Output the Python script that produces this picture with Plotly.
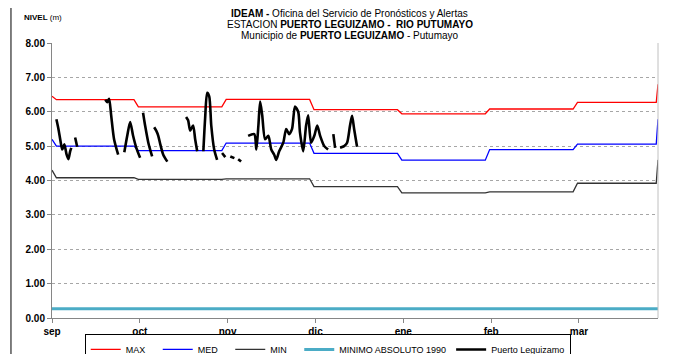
import plotly.graph_objects as go

# eje x en dias desde el 1 de septiembre (cada mes ocupa 30 dias en la grafica)
meses = ["sep", "oct", "nov", "dic", "ene", "feb", "mar"]
dias_mes = [0, 30, 60, 90, 120, 150, 180]
dia_final = 207

# niveles de referencia mensuales (ago = valor inicial, abr = valor final)
nivel_max = [6.45, 6.35, 6.14, 6.36, 6.06, 5.94, 6.08, 6.27, 6.80]
nivel_med = [5.20, 5.00, 4.87, 5.09, 4.79, 4.59, 4.90, 5.06, 5.78]
nivel_min = [4.30, 4.08, 4.03, 4.05, 3.82, 3.64, 3.67, 3.92, 4.60]
minimo_absoluto = 0.27

# observaciones Puerto Leguizamo (None = sin dato)
dias_obs = [
    1.5, 2.2, 3.0, 3.5, 4.2, 5.0, 5.6, 6.2, 6.6, None,
    7.9, 8.6, None,
    18.2, 18.9, 19.5, 20.2, 21.2, 22.6, None,
    24.7, 25.7, 26.7, 27.7, 28.8, 30.1, None,
    31.1, 31.8, 32.9, 34.2, None,
    34.9, 35.6, 36.3, 37.0, 38.0, 39.4, None,
    45.8, 46.5, 47.2, 48.2, 48.9, 49.6, None,
    51.7, 52.3, 53.0, 53.7, 54.4, 55.4, 56.4, None,
    58.1, 59.2, None, 60.9, 62.3, None, 63.6, 64.6, None,
    67.0, 69.1, 69.8, 70.5, 71.1, 71.8, 72.8, 73.9, 74.9, 75.9, 76.6, 77.6,
    79.0, 80.0, 81.0, 82.0, 83.0, 84.1, 84.7, 85.8, 86.8, 87.5, 88.5, 89.6,
    90.6, 91.6, 93.0, 94.3, None,
    96.1, 96.7, None,
    98.4, 99.8, 100.8, 101.8, 102.5, 103.2, 104.2,
]
nivel_obs = [
    5.78, 5.50, 5.10, 4.90, 5.05, 4.75, 4.62, 4.85, 4.95, None,
    5.25, 4.98, None,
    6.35, 6.28, 6.38, 5.90, 5.20, 4.75, None,
    4.82, 5.30, 5.70, 5.30, 4.95, 4.66, None,
    5.97, 5.60, 5.10, 4.70, None,
    5.55, 5.45, 5.30, 5.05, 4.75, 4.55, None,
    5.85, 5.75, 5.45, 5.60, 5.20, 4.85, None,
    4.85, 5.80, 6.55, 6.45, 5.60, 4.90, 4.60, None,
    4.80, 4.68, None, 4.70, 4.65, None, 4.62, 4.55, None,
    5.30, 5.35, 4.90, 5.60, 6.30, 5.90, 5.20, 5.30, 4.90, 4.75, 4.60, 4.85,
    5.10, 5.50, 5.35, 5.50, 6.15, 6.00, 5.40, 4.85, 5.60, 5.90, 5.10, 5.30,
    5.60, 5.30, 5.00, 4.90, None,
    5.35, 4.95, None,
    4.95, 5.00, 5.10, 5.60, 5.88, 5.50, 4.98,
]


def escalones(valores):
    # linea mensual con rampa corta en el cambio de mes
    xs = [0, 1.5]
    ys = [valores[0], valores[1]]
    for i in range(1, len(dias_mes)):
        b = dias_mes[i]
        xs += [b - 2, b - 0.5]
        ys += [valores[i], valores[i + 1]]
    xs += [dia_final - 0.6, dia_final]
    ys += [valores[-2], valores[-1]]
    return xs, ys


fuente = "Arial, Liberation Sans, sans-serif"
relleno = "\u00a0\u00a0\u00a0"  # separa un poco mas las entradas cortas de la leyenda

fig = go.Figure()

for nombre, valores, color in [
    ("MAX", nivel_max, "#ff0000"),
    ("MED", nivel_med, "#0000ff"),
    ("MIN", nivel_min, "#333333"),
]:
    xs, ys = escalones(valores)
    fig.add_trace(go.Scatter(x=xs, y=ys, mode="lines", name=nombre + relleno,
                             line=dict(color=color, width=1.3)))

fig.add_trace(go.Scatter(
    x=[0, dia_final], y=[minimo_absoluto, minimo_absoluto],
    mode="lines", name="MINIMO ABSOLUTO 1990",
    line=dict(color="#4bacc6", width=3)))

fig.add_trace(go.Scatter(
    x=dias_obs, y=nivel_obs, mode="lines", name="Puerto Leguizamo",
    line=dict(color="black", width=2.6, shape="spline", smoothing=0.7),
    connectgaps=False))

titulos = [
    ("<b>IDEAM - </b>Oficina del Servicio de Pronósticos y Alertas", 1.109),
    ("ESTACION <b>PUERTO LEGUIZAMO -  RIO PUTUMAYO</b>", 1.066),
    ("Municipio de <b>PUERTO LEGUIZAMO</b> - Putumayo", 1.026),
]
for texto, yy in titulos:
    fig.add_annotation(text=texto, xref="paper", yref="paper", x=0.4917, y=yy,
                       showarrow=False, xanchor="center", yanchor="middle",
                       font=dict(family=fuente, size=10, color="black"))

fig.add_annotation(text="<b>NIVEL</b> (m)", xref="paper", yref="paper",
                   x=-0.0495, y=1.0945, showarrow=False, xanchor="left",
                   yanchor="middle", font=dict(family=fuente, size=8, color="black"))

# marco exterior y borde derecho del area de trazado
fig.add_shape(type="rect", xref="paper", yref="paper",
              x0=-0.0677, x1=1.0198, y0=-0.3, y1=1.138,
              line=dict(color="black", width=1))
fig.add_shape(type="line", xref="paper", yref="paper",
              x0=1, x1=1, y0=0, y1=1, line=dict(color="#c0c0c0", width=1))

# la pagina deja 8 px de margen, se compensa en los margenes
fig.update_layout(
    width=677,
    height=354,
    margin=dict(l=44, r=27, t=35, b=44, autoexpand=False),
    paper_bgcolor="white",
    plot_bgcolor="white",
    font=dict(family=fuente, color="black"),
    showlegend=True,
    legend=dict(
        orientation="h",
        x=0.054, y=-0.058, xanchor="left", yanchor="top",
        bordercolor="black", borderwidth=1, bgcolor="white",
        font=dict(family=fuente, size=9),
        itemwidth=30,
    ),
    xaxis=dict(
        range=[0, dia_final],
        tickvals=dias_mes,
        ticktext=meses,
        showgrid=False,
        zeroline=False,
        showline=True,
        linecolor="#868686",
        ticks="outside",
        ticklen=4,
        tickcolor="#868686",
        tickfont=dict(family=fuente, size=10, weight="bold"),
    ),
    yaxis=dict(
        range=[0, 8],
        dtick=1,
        tickformat=".2f",
        showgrid=True,
        gridcolor="#a6a6a6",
        griddash="dot",
        gridwidth=1,
        zeroline=False,
        showline=True,
        linecolor="#868686",
        ticks="outside",
        ticklen=4,
        tickcolor="#868686",
        tickfont=dict(family=fuente, size=10, weight="bold"),
    ),
)

fig.write_html("out.html")
